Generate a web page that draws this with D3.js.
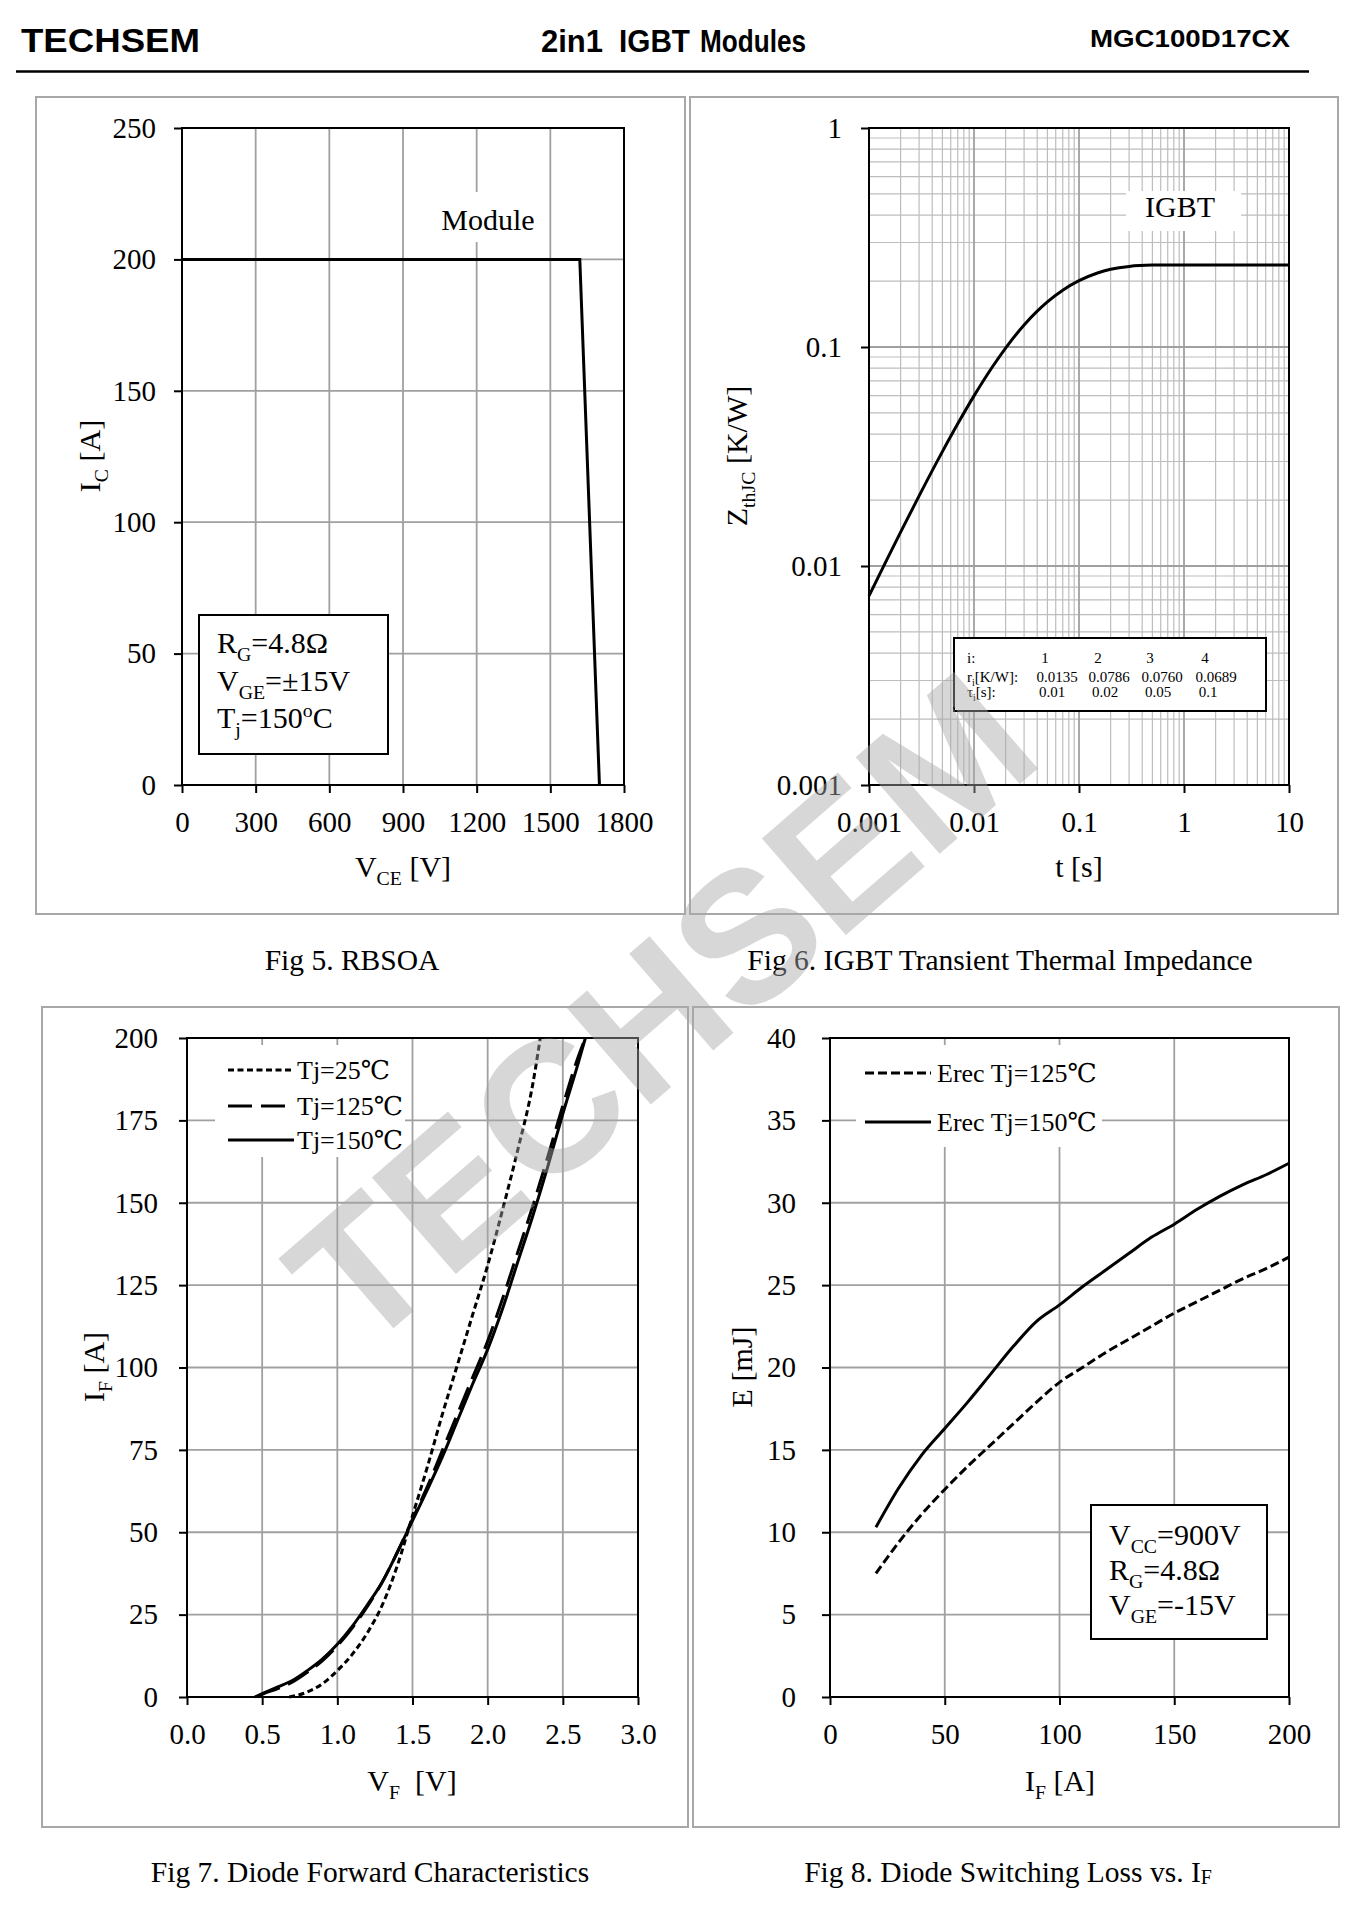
<!DOCTYPE html>
<html><head><meta charset="utf-8">
<script src="https://cdn.jsdelivr.net/npm/d3@7"></script>
<style>body{margin:0;background:#fff}svg{display:block}text{white-space:pre}</style>
</head><body>
<script>
// ---------------- DATA ----------------
// Fig 5 RBSOA
const rbsoaV = [0, 1620, 1700];
const rbsoaI = [200, 200, 0];
const rbsoaXTicks = [0, 300, 600, 900, 1200, 1500, 1800];
const rbsoaYTicks = [0, 50, 100, 150, 200, 250];
// Fig 6 transient thermal impedance
const zthT = [0.001,0.0015,0.002,0.003,0.005,0.007,0.01,0.015,0.02,0.03,0.04,0.05,0.07,0.1,0.15,0.2,0.3,0.5,0.7,1,2,5,10];
const zthZ = [0.00731,0.01083,0.01427,0.02091,0.03329,0.04459,0.0598,0.08126,0.0989,0.12604,0.14578,0.16071,0.18166,0.20084,0.2178,0.22629,0.23338,0.23654,0.2369,0.2370,0.2370,0.2370,0.2370];
const zthXTicks = [0.001, 0.01, 0.1, 1, 10];
const zthYTicks = [0.001, 0.01, 0.1, 1];
const fosterIdx = ["1", "2", "3", "4"];
const fosterR = ["0.0135", "0.0786", "0.0760", "0.0689"];
const fosterTau = ["0.01", "0.02", "0.05", "0.1"];
// Fig 7 diode forward
const vf25  = [0.68,0.8,0.9,1.0,1.1,1.2,1.3,1.4,1.5,1.6,1.7,1.8,1.9,2.0,2.1,2.2,2.3,2.35];
const if25  = [0,1.5,4,8,13,19.5,28,40,55,70,86,101,116,131,148,166,186,200];
const vf125 = [0.47,0.5,0.6,0.7,0.8,0.9,1.0,1.1,1.2,1.3,1.4,1.5,1.6,1.7,1.8,1.9,2.0,2.1,2.2,2.3,2.4,2.5,2.6,2.65];
const if125 = [0,0.8,2.5,4.5,7.5,11,15.5,21,27.5,35,44,54,64,75,86,97,108,121,135,149,164,179.5,194,200];
const vf150 = [0.45,0.5,0.6,0.7,0.8,0.9,1.0,1.1,1.2,1.3,1.4,1.5,1.6,1.7,1.8,1.9,2.0,2.1,2.2,2.3,2.4,2.5,2.6,2.65];
const if150 = [0,1,3,5,8,11.5,16,21.5,28,35,44,53.5,63,73,84,95,105.5,118,132,146,161,177,192,200];
const vfXTicks = [0,0.5,1.0,1.5,2.0,2.5,3.0];
const vfYTicks = [0,25,50,75,100,125,150,175,200];
const vfNames = ["Tj=25\u2103", "Tj=125\u2103", "Tj=150\u2103"];
// Fig 8 diode switching loss
const erecI = [20,30,40,50,60,70,80,90,100,110,120,130,140,150,160,170,180,190,200];
const erec125 = [7.5,9.4,11.1,12.6,14.0,15.3,16.6,17.9,19.1,20.0,20.9,21.7,22.5,23.3,24.0,24.7,25.4,26.0,26.7];
const erec150 = [10.3,12.7,14.7,16.3,17.9,19.6,21.3,22.8,23.8,24.9,25.9,26.9,27.9,28.7,29.6,30.4,31.1,31.7,32.4];
const erecXTicks = [0,50,100,150,200];
const erecYTicks = [0,5,10,15,20,25,30,35,40];
const erecNames = ["Erec Tj=125\u2103", "Erec Tj=150\u2103"];

// ---------------- DRAWING ----------------
const W = 1352, H = 1927;
const SERIF = "'Liberation Serif','Times New Roman','DejaVu Serif',serif";
const SANS = "'Liberation Sans',Arial,sans-serif";
const svg = d3.select("body").append("svg").attr("width", W).attr("height", H);

// header
svg.append("text").attr("x", 21).attr("y", 52).text("TECHSEM")
  .attr("font-family", SANS).attr("font-weight", "bold").attr("font-size", 33)
  .attr("textLength", 179).attr("lengthAdjust", "spacingAndGlyphs");
[["2in1", 541, 62], ["IGBT", 619, 71], ["Modules", 700, 106]].forEach(([s, x, l]) => {
  svg.append("text").attr("x", x).attr("y", 52).text(s)
    .attr("font-family", "'Liberation Sans Narrow','Liberation Sans',Arial").attr("font-weight", "bold")
    .attr("font-size", 32).attr("textLength", l).attr("lengthAdjust", "spacingAndGlyphs");
});
svg.append("text").attr("x", 1090).attr("y", 47).text("MGC100D17CX")
  .attr("font-family", SANS).attr("font-weight", "bold").attr("font-size", 24)
  .attr("textLength", 200).attr("lengthAdjust", "spacingAndGlyphs");
svg.append("line").attr("x1", 16).attr("x2", 1309).attr("y1", 71.5).attr("y2", 71.5)
  .attr("stroke", "#000").attr("stroke-width", 2.5);

// panel borders
[[36, 97, 649, 817], [690, 97, 648, 817], [42, 1007, 646, 820], [693, 1007, 646, 820]].forEach(([x, y, w, h]) => {
  svg.append("rect").attr("x", x).attr("y", y).attr("width", w).attr("height", h)
    .attr("fill", "none").attr("stroke", "#a8a8a8").attr("stroke-width", 2);
});

// captions
[["Fig 5. RBSOA", 352, 970], ["Fig 6. IGBT Transient Thermal Impedance", 1000, 970],
 ["Fig 7. Diode Forward Characteristics", 370, 1882]].forEach(([s, x, y]) => {
  svg.append("text").attr("x", x).attr("y", y).attr("text-anchor", "middle").text(s)
    .attr("font-family", SERIF).attr("font-size", 29.5);
});
{
  const t = svg.append("text").attr("x", 1008).attr("y", 1882).attr("text-anchor", "middle")
    .attr("font-family", SERIF).attr("font-size", 29.5);
  t.append("tspan").text("Fig 8. Diode Switching Loss vs. I");
  t.append("tspan").text("F").attr("font-size", 20).attr("dy", 2);
}

function rich(t, parts, size) {
  let shift = 0;
  parts.forEach(([s, k]) => {
    const sp = t.append("tspan").text(s);
    const target = k === "sub" ? size * 0.28 : k === "sup" ? -size * 0.38 : 0;
    sp.attr("dy", target - shift); shift = target;
    if (k !== "n") sp.attr("font-size", size * 0.66);
  });
  return t;
}

function drawFrame(x, y, xTicks, yTicks, xFmt, yFmt, yPad, minorX, minorY) {
  const [x0, x1] = x.range(), [y0, y1] = y.range();
  const g = svg.append("g");
  if (minorX) g.selectAll(null).data(minorX).join("line")
    .attr("x1", d => x(d)).attr("x2", d => x(d)).attr("y1", y1).attr("y2", y0)
    .attr("stroke", "#bdbdbd").attr("stroke-width", 1.2);
  if (minorY) g.selectAll(null).data(minorY).join("line")
    .attr("y1", d => y(d)).attr("y2", d => y(d)).attr("x1", x0).attr("x2", x1)
    .attr("stroke", "#bdbdbd").attr("stroke-width", 1.2);
  g.selectAll(null).data(xTicks).join("line")
    .attr("x1", d => x(d)).attr("x2", d => x(d)).attr("y1", y1).attr("y2", y0)
    .attr("stroke", "#a0a0a0").attr("stroke-width", 1.8);
  g.selectAll(null).data(yTicks).join("line")
    .attr("y1", d => y(d)).attr("y2", d => y(d)).attr("x1", x0).attr("x2", x1)
    .attr("stroke", "#a0a0a0").attr("stroke-width", 1.8);
  const ax = g.append("g").attr("transform", `translate(0,${y0})`)
    .call(d3.axisBottom(x).tickValues(xTicks).tickFormat(xFmt).tickSize(8).tickPadding(18));
  const ay = g.append("g").attr("transform", `translate(${x0},0)`)
    .call(d3.axisLeft(y).tickValues(yTicks).tickFormat(yFmt).tickSize(8).tickPadding(yPad));
  [ax, ay].forEach(a => {
    a.select(".domain").remove();
    a.selectAll("line").attr("stroke", "#000").attr("stroke-width", 2);
    a.selectAll("text").attr("font-family", SERIF).attr("font-size", 29).attr("fill", "#000");
  });
  g.append("rect").attr("x", x0).attr("y", y1).attr("width", x1 - x0).attr("height", y0 - y1)
    .attr("fill", "none").attr("stroke", "#000").attr("stroke-width", 2);
  return g;
}

function yTitle(x, y, parts) {
  const t = svg.append("text").attr("transform", `translate(${x},${y}) rotate(-90)`)
    .attr("text-anchor", "middle").attr("font-family", SERIF).attr("font-size", 30);
  return rich(t, parts, 30);
}
function xTitle(x, y, parts) {
  const t = svg.append("text").attr("x", x).attr("y", y)
    .attr("text-anchor", "middle").attr("font-family", SERIF).attr("font-size", 30);
  return rich(t, parts, 30);
}
function whiteBox(x, y, w, h, stroke) {
  svg.append("rect").attr("x", x).attr("y", y).attr("width", w).attr("height", h)
    .attr("fill", "#fff").attr("stroke", stroke ? "#000" : "none").attr("stroke-width", 2);
}
function multiText(x, ys, lines, size) {
  lines.forEach((parts, i) => {
    const t = svg.append("text").attr("x", x).attr("y", ys[i]).attr("font-family", SERIF).attr("font-size", size);
    rich(t, parts, size);
  });
}

// ===== Fig 5 =====
{
  const x = d3.scaleLinear().domain([0, 1800]).range([182, 624]);
  const y = d3.scaleLinear().domain([0, 250]).range([785, 128]);
  drawFrame(x, y, rbsoaXTicks, rbsoaYTicks, d3.format("d"), d3.format("d"), 18);
  whiteBox(440, 192, 98, 50, false);
  svg.append("text").attr("x", 488).attr("y", 230).attr("text-anchor", "middle")
    .attr("font-family", SERIF).attr("font-size", 30).text("Module");
  const pts = rbsoaV.map((v, i) => [x(v), y(rbsoaI[i])]);
  svg.append("path").attr("d", d3.line()(pts)).attr("fill", "none").attr("stroke", "#000").attr("stroke-width", 3);
  whiteBox(199, 615, 189, 139, true);
  multiText(217, [653, 691, 728], [
    [["R", "n"], ["G", "sub"], ["=4.8\u03A9", "n"]],
    [["V", "n"], ["GE", "sub"], ["=\u00B115V", "n"]],
    [["T", "n"], ["j", "sub"], ["=150", "n"], ["o", "sup"], ["C", "n"]]
  ], 30);
  yTitle(100, 456, [["I", "n"], ["C", "sub"], [" [A]", "n"]]);
  xTitle(403, 877, [["V", "n"], ["CE", "sub"], [" [V]", "n"]]);
}

// ===== Fig 6 =====
{
  const x = d3.scaleLog().domain([0.001, 10]).range([869, 1289]);
  const y = d3.scaleLog().domain([0.001, 1]).range([785, 128]);
  const minorX = [], minorY = [];
  zthXTicks.slice(0, -1).forEach(d => { for (let k = 2; k <= 9; k++) minorX.push(d * k); });
  zthYTicks.slice(0, -1).forEach(d => { for (let k = 2; k <= 9; k++) minorY.push(d * k); });
  drawFrame(x, y, zthXTicks, zthYTicks, d => String(d), d => String(d), 19, minorX, minorY);
  whiteBox(1126, 191, 115, 40, false);
  svg.append("text").attr("x", 1180).attr("y", 217).attr("text-anchor", "middle")
    .attr("font-family", SERIF).attr("font-size", 30).text("IGBT");
  const pts = zthT.map((t, i) => [x(t), y(zthZ[i])]);
  svg.append("path").attr("d", d3.line().curve(d3.curveMonotoneX)(pts))
    .attr("fill", "none").attr("stroke", "#000").attr("stroke-width", 3);
  whiteBox(954, 638, 312, 73, true);
  const fs = 15;
  const rowsY = [663, 682, 697];
  const colX = [1045, 1098, 1150, 1205];
  const colX2 = [1057, 1109, 1162, 1216];
  const colX3 = [1052, 1105, 1158, 1208];
  const lbls = [[["i:", "n"]], [["r", "n"], ["i", "sub"], ["[K/W]:", "n"]], [["\u03C4", "n"], ["i", "sub"], ["[s]:", "n"]]];
  lbls.forEach((p, i) => {
    const t = svg.append("text").attr("x", 967).attr("y", rowsY[i]).attr("font-family", SERIF).attr("font-size", fs);
    rich(t, p, fs);
  });
  [[fosterIdx, colX], [fosterR, colX2], [fosterTau, colX3]].forEach(([arr, cx], r) => {
    arr.forEach((s, i) => svg.append("text").attr("x", cx[i]).attr("y", rowsY[r]).attr("text-anchor", "middle")
      .attr("font-family", SERIF).attr("font-size", fs).text(s));
  });
  yTitle(747, 456, [["Z", "n"], ["thJC", "sub"], [" [K/W]", "n"]]);
  xTitle(1079, 877, [["t [s]", "n"]]);
}

// ===== Fig 7 =====
{
  const x = d3.scaleLinear().domain([0, 3]).range([187, 638]);
  const y = d3.scaleLinear().domain([0, 200]).range([1697, 1038]);
  drawFrame(x, y, vfXTicks, vfYTicks, d3.format(".1f"), d3.format("d"), 21);
  const series = [[vf25, if25, "6,3.5"], [vf125, if125, "24,9"], [vf150, if150, null]];
  whiteBox(215, 1045, 190, 112, false);
  series.forEach(([vx, iy, dash], k) => {
    const p = svg.append("path").attr("d", d3.line().curve(d3.curveMonotoneX)(vx.map((v, i) => [x(v), y(iy[i])])))
      .attr("fill", "none").attr("stroke", "#000").attr("stroke-width", 3);
    if (dash) p.attr("stroke-dasharray", dash);
    const ly = [1070, 1106, 1140][k];
    const l = svg.append("line").attr("x1", 228).attr("x2", 294).attr("y1", ly).attr("y2", ly)
      .attr("stroke", "#000").attr("stroke-width", 3);
    if (dash) l.attr("stroke-dasharray", dash);
    svg.append("text").attr("x", 297).attr("y", ly + 9).attr("font-family", SERIF).attr("font-size", 26).text(vfNames[k]);
  });
  yTitle(104, 1367, [["I", "n"], ["F", "sub"], [" [A]", "n"]]);
  xTitle(412, 1791, [["V", "n"], ["F", "sub"], ["  [V]", "n"]]);
}

// ===== Fig 8 =====
{
  const x = d3.scaleLinear().domain([0, 200]).range([830, 1289]);
  const y = d3.scaleLinear().domain([0, 40]).range([1697, 1038]);
  drawFrame(x, y, erecXTicks, erecYTicks, d3.format("d"), d3.format("d"), 26);
  whiteBox(856, 1045, 246, 102, false);
  const series = [[erec125, "9,4"], [erec150, null]];
  series.forEach(([ey, dash], k) => {
    const p = svg.append("path").attr("d", d3.line().curve(d3.curveMonotoneX)(erecI.map((v, i) => [x(v), y(ey[i])])))
      .attr("fill", "none").attr("stroke", "#000").attr("stroke-width", 3);
    if (dash) p.attr("stroke-dasharray", dash);
    const ly = [1073, 1122][k];
    const l = svg.append("line").attr("x1", 865).attr("x2", 931).attr("y1", ly).attr("y2", ly)
      .attr("stroke", "#000").attr("stroke-width", 3);
    if (dash) l.attr("stroke-dasharray", dash);
    svg.append("text").attr("x", 937).attr("y", ly + 9).attr("font-family", SERIF).attr("font-size", 26).text(erecNames[k]);
  });
  whiteBox(1091, 1505, 176, 134, true);
  multiText(1109, [1545, 1580, 1615], [
    [["V", "n"], ["CC", "sub"], ["=900V", "n"]],
    [["R", "n"], ["G", "sub"], ["=4.8\u03A9", "n"]],
    [["V", "n"], ["GE", "sub"], ["=-15V", "n"]]
  ], 30);
  yTitle(752, 1367, [["E [mJ]", "n"]]);
  xTitle(1060, 1791, [["I", "n"], ["F", "sub"], [" [A]", "n"]]);
}

// watermark
svg.append("text").attr("transform", "translate(660,1008) rotate(-41)")
  .attr("text-anchor", "middle").attr("dy", "0.36em")
  .attr("font-family", SANS).attr("font-weight", "bold").attr("font-size", 186)
  .attr("fill", "#a8a8a8").attr("opacity", 0.45).text("TECHSEM");
</script>
</body></html>
